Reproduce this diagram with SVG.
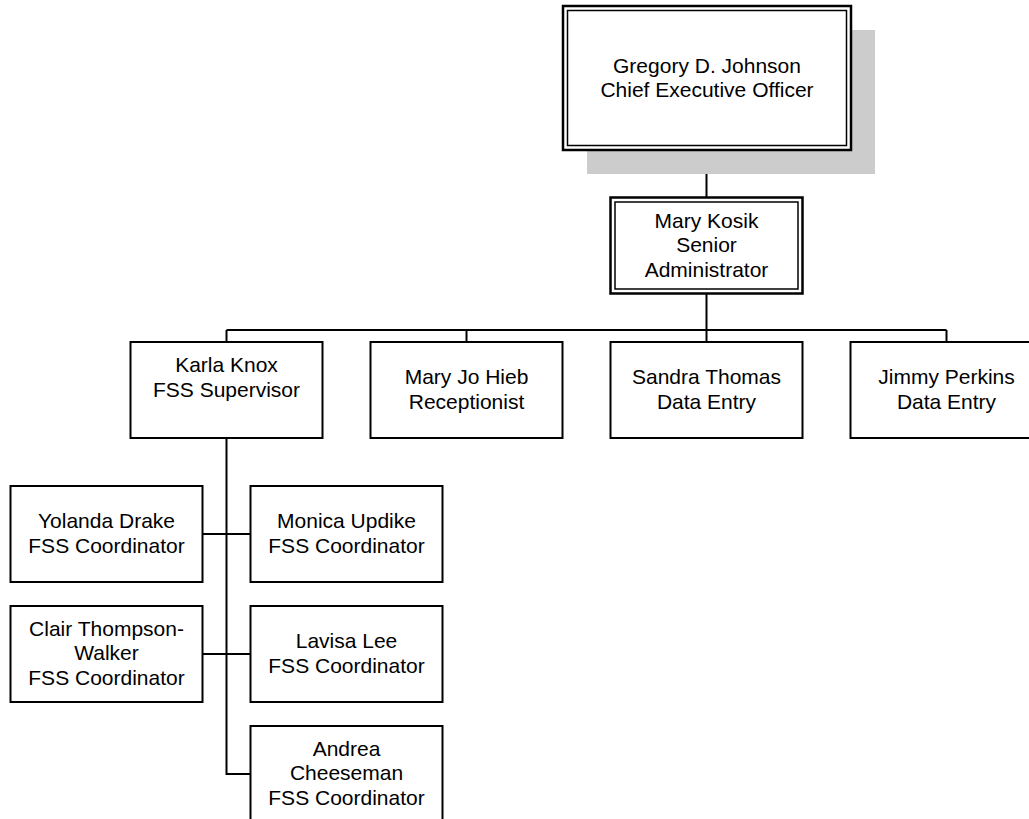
<svg xmlns="http://www.w3.org/2000/svg" width="1029" height="819" viewBox="0 0 1029 819">
<style>
  .box{fill:#ffffff;stroke:#000000;stroke-width:2}
  .outer{fill:#ffffff;stroke:#000000;stroke-width:2.5}
  .inner{fill:none;stroke:#000000;stroke-width:1.5}
  .shadow{fill:#cccccc;stroke:none}
  .conn{fill:none;stroke:#000000;stroke-width:2}
  text{font-family:"Liberation Sans",Arial,Helvetica,sans-serif;font-size:21px;fill:#000000;text-anchor:middle}
</style>
<rect width="1029" height="819" fill="#ffffff"/>
<g id="connectors">
  <path class="conn" d="M706.5,150 V197.5"/>
  <path class="conn" d="M706.5,293.5 V342"/>
  <path class="conn" d="M226.5,330 H946.5"/>
  <path class="conn" d="M226.5,330 V342"/>
  <path class="conn" d="M466.5,330 V342"/>
  <path class="conn" d="M946.5,330 V342"/>
  <path class="conn" d="M226.5,438 V774 H250.5"/>
  <path class="conn" d="M202.5,534 H250.5"/>
  <path class="conn" d="M202.5,654 H250.5"/>
</g>
<g id="node-ceo">
  <rect class="shadow" x="587" y="30" width="288" height="144"/>
  <rect class="outer" x="563" y="6" width="288" height="144"/>
  <rect class="inner" x="567.5" y="10.5" width="279" height="135"/>
  <text x="707" y="72.5">Gregory D. Johnson</text>
  <text x="707" y="97">Chief Executive Officer</text>
</g>
<g id="node-kosik">
  <rect class="outer" x="610.5" y="197.5" width="192" height="96"/>
  <rect class="inner" x="615" y="202" width="183" height="87"/>
  <text x="706.5" y="227.5">Mary Kosik</text>
  <text x="706.5" y="252">Senior</text>
  <text x="706.5" y="276.5">Administrator</text>
</g>
<g id="node-knox">
  <rect class="box" x="130.5" y="342" width="192" height="96"/>
  <text x="226.5" y="372">Karla Knox</text>
  <text x="226.5" y="396.5">FSS Supervisor</text>
</g>
<g id="node-hieb">
  <rect class="box" x="370.5" y="342" width="192" height="96"/>
  <text x="466.5" y="384.25">Mary Jo Hieb</text>
  <text x="466.5" y="408.75">Receptionist</text>
</g>
<g id="node-thomas">
  <rect class="box" x="610.5" y="342" width="192" height="96"/>
  <text x="706.5" y="384.25">Sandra Thomas</text>
  <text x="706.5" y="408.75">Data Entry</text>
</g>
<g id="node-perkins">
  <rect class="box" x="850.5" y="342" width="192" height="96"/>
  <text x="946.5" y="384.25">Jimmy Perkins</text>
  <text x="946.5" y="408.75">Data Entry</text>
</g>
<g id="node-drake">
  <rect class="box" x="10.5" y="486" width="192" height="96"/>
  <text x="106.5" y="528.25">Yolanda Drake</text>
  <text x="106.5" y="552.75">FSS Coordinator</text>
</g>
<g id="node-updike">
  <rect class="box" x="250.5" y="486" width="192" height="96"/>
  <text x="346.5" y="528.25">Monica Updike</text>
  <text x="346.5" y="552.75">FSS Coordinator</text>
</g>
<g id="node-thompson-walker">
  <rect class="box" x="10.5" y="606" width="192" height="96"/>
  <text x="106.5" y="635.5">Clair Thompson-</text>
  <text x="106.5" y="660">Walker</text>
  <text x="106.5" y="684.5">FSS Coordinator</text>
</g>
<g id="node-lee">
  <rect class="box" x="250.5" y="606" width="192" height="96"/>
  <text x="346.5" y="648.25">Lavisa Lee</text>
  <text x="346.5" y="672.75">FSS Coordinator</text>
</g>
<g id="node-cheeseman">
  <rect class="box" x="250.5" y="726" width="192" height="96"/>
  <text x="346.5" y="755.5">Andrea</text>
  <text x="346.5" y="780">Cheeseman</text>
  <text x="346.5" y="804.5">FSS Coordinator</text>
</g>
</svg>
